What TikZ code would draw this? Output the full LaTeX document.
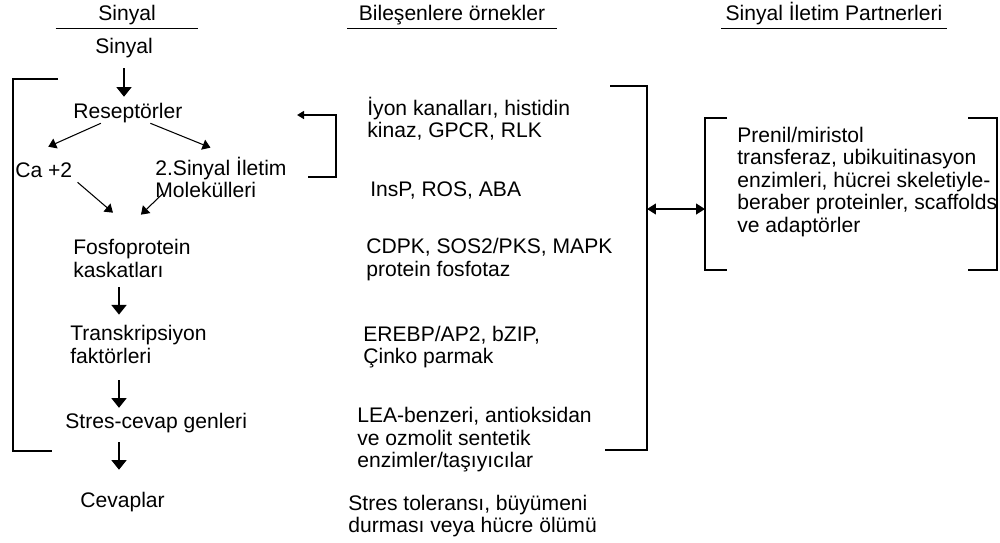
\documentclass[tikz,border=0pt]{standalone}
\usepackage{fontspec}
\setmainfont{Liberation Sans}
\usetikzlibrary{arrows.meta, calc}

\begin{document}
\begin{tikzpicture}[
    x=0.02cm, y=-0.02cm,
    txt/.style={inner sep=0pt, align=left, font=\fontsize{12}{12.8}\selectfont},
    one/.style={txt, text height=8.8pt, text depth=2.5pt},
    head/.style={one, inner ysep=1.7pt},
    rule/.style={line width=0.8pt},
    bracket/.style={line width=1pt},
    arrow/.style={-{Triangle[width=8.5pt,length=5.5pt]}, line width=1pt},
    thinarrow/.style={-{Triangle[width=6pt,length=4.5pt]}, line width=0.6pt},
    backarrow/.style={-{Triangle[width=4.5pt,length=4pt]}, line width=1pt},
    dblarrow/.style={{Triangle[width=6pt,length=5pt]}-{Triangle[width=6pt,length=5pt]}, line width=1pt}
]
\useasboundingbox (0,0) rectangle (1000,542);

\node[head, minimum width=80.8pt] (sighead) at (127,15) {Sinyal};
\node[head, minimum width=119pt] (comphead) at (452,15) {Bileşenlere örnekler};
\node[head, minimum width=128pt] (parthead) at (834,15) {Sinyal İletim Partnerleri};
\draw[rule] (sighead.south west) -- (sighead.south east);
\draw[rule] (comphead.south west) -- (comphead.south east);
\draw[rule] (parthead.south west) -- (parthead.south east);

\coordinate (spine) at (119,0);
\node[one] (sig) at (124,48) {Sinyal};
\node[one, anchor=west] (rec) at (73,113) {Reseptörler};
\node[one, anchor=west] (ca) at (15,172) {Ca +2};
\node[txt, anchor=west] (mol) at (155,177.5) {2.Sinyal İletim\\Molekülleri};
\node[txt, anchor=west] (fosfo) at (73,258.5) {Fosfoprotein\\kaskatları};
\node[txt, anchor=west] (trans) at (70,344.5) {Transkripsiyon\\faktörleri};
\node[one, anchor=west] (stres) at (65,423) {Stres-cevap genleri};
\node[one, anchor=west] (cevap) at (80,502) {Cevaplar};

\draw[arrow, shorten <=5.7pt, shorten >=3.4pt] (sig.south) -- (sig.south |- rec.north);
\draw[thinarrow] ($(rec.south)+(-27,0)$) -- ($(ca.north)+(4.5,-15)$);
\draw[thinarrow] ($(rec.south)+(22.5,0)$) -- ($(mol.north)+(-10.5,-9)$);
\draw[thinarrow] ($(ca.south east)+(5,0)$) -- ($(fosfo.north)+(-19,-26.5)$);
\draw[thinarrow] ($(mol.south west)+(8,-5)$) -- ($(fosfo.north)+(9,-24.5)$);
\draw[arrow, shorten <=5.4pt, shorten >=6pt] (fosfo.south -| spine) -- (trans.north -| spine);
\draw[arrow, shorten <=9.4pt, shorten >=2.8pt] (trans.south -| spine) -- (stres.north -| spine);
\draw[arrow, shorten <=5.1pt, shorten >=12.5pt] (stres.south -| spine) -- (cevap.north -| spine);

\draw[bracket] (58,79) -| (13,451) -- (52,451);

\node[txt, anchor=west] (ion) at (367,118.5) {İyon kanalları, histidin\\kinaz, GPCR, RLK};
\node[one, anchor=west] (insp) at (370,191) {InsP, ROS, ABA};
\node[txt, anchor=west] (cdpk) at (366,259.5) {CDPK, SOS2/PKS, MAPK\\protein fosfotaz};
\node[txt, anchor=west] (erebp) at (363,347) {EREBP/AP2, bZIP,\\Çinko parmak};
\node[txt, anchor=west] (lea) at (357,440) {LEA-benzeri, antioksidan\\ve ozmolit sentetik\\enzimler/taşıyıcılar};
\node[txt, anchor=west] (tol) at (348,516) {Stres toleransı, büyümeni\\durması veya hücre ölümü};

\coordinate (fbin) at (308,177);
\coordinate (fbout) at (297,115);
\draw[backarrow] (fbin) -- ++(28,0) |- (fbout);

\draw[bracket] (610,86) -- (647,86) -- (647,450) -- (605,450);

\node[txt, anchor=west] (part) at (737,182) {Prenil/miristol\\transferaz, ubikuitinasyon\\enzimleri, hücrei skeletiyle-\\beraber proteinler, scaffolds\\ve adaptörler};
\draw[bracket] (727,118) -- (705,118) -- (705,270) -- (727,270);
\draw[bracket] (968,118) -- (997,118) -- (997,270) -- (968,270);

\coordinate (bigbr) at (647,209);
\coordinate (partbr) at (705,209);
\draw[dblarrow] (bigbr) -- (partbr);

\end{tikzpicture}
\end{document}
